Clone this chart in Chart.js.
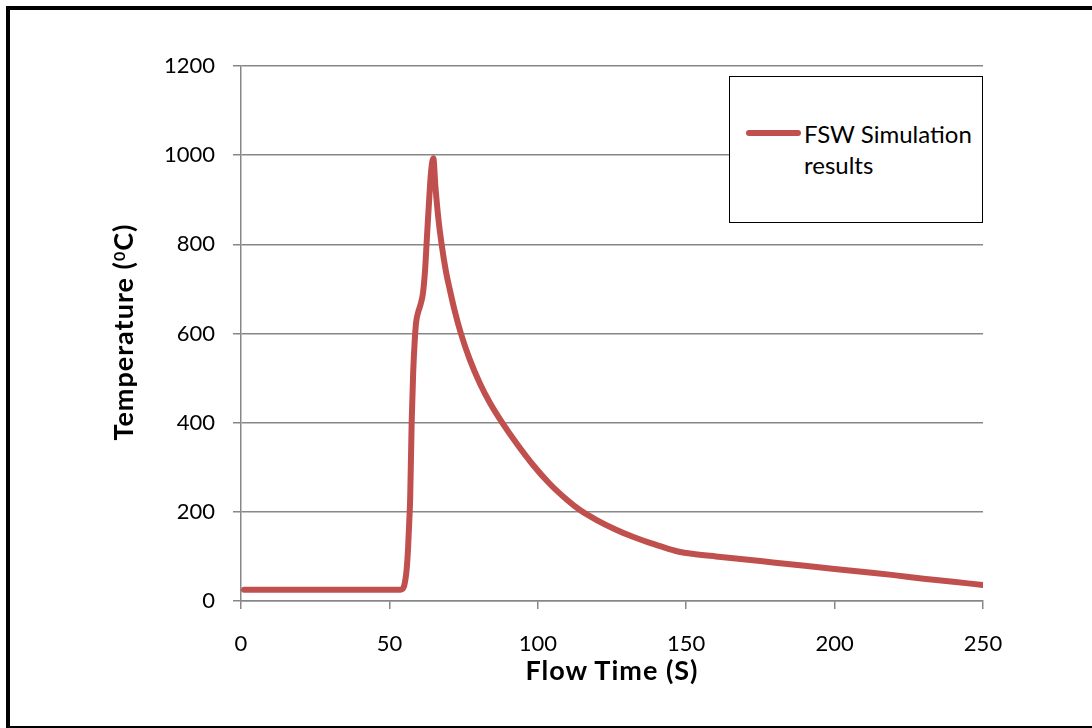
<!DOCTYPE html>
<html>
<head>
<meta charset="utf-8">
<script src="https://cdn.jsdelivr.net/npm/chart.js@4/dist/chart.umd.min.js"></script>
<style>
  html, body { margin:0; padding:0; background:#fff; overflow:hidden; }
  #wrap { position:relative; width:1092px; height:728px; }
  #frame { position:absolute; left:6px; top:6px; width:1100px; height:716px;
           border-left:4px solid #000; border-top:4px solid #000; border-bottom:2px solid #000; }
  canvas { position:absolute; left:0; top:0; }
  .title { position:absolute; font-family:Lato, "DejaVu Sans", sans-serif; font-weight:bold;
           font-size:27px; line-height:32px; height:32px; letter-spacing:1px; color:#000;
           text-align:center; white-space:nowrap; }
  .title sup { font-size:16px; vertical-align:top; position:relative; top:-4px; }
  #legend { position:absolute; left:729px; top:76px; width:252px; height:145px;
            border:1px solid #000; background:#fff; }
  #legend .swatch { position:absolute; left:16px; top:53px; width:55px; height:6px;
            background:#C0504D; border-radius:3px; }
  #legend .txt { position:absolute; left:74px; top:41px; font-family:Lato, sans-serif;
            font-size:24px; line-height:31px; color:#000; white-space:nowrap; }
</style>
</head>
<body>
<div id="wrap">
  <div id="frame"></div>
  <canvas id="c" width="1092" height="728"></canvas>
  <div id="legend"><div class="swatch"></div><div class="txt">FSW Simulation<br>results</div></div>
  <div class="title" id="xt" style="left:412px; top:654px; width:400px;">Flow Time (S)</div>
  <div class="title" id="yt" style="left:-77px; top:316px; width:400px; transform:rotate(-90deg);">Temperature (<sup>0</sup>C)</div>
</div>
<script>
const seriesName = "FSW Simulation results";
const flowTime = [1, 10, 20, 30, 40, 50, 53, 54, 55, 55.8, 56.3, 56.7, 57, 57.5, 58, 58.5, 59, 59.7, 60.5, 61.3, 62, 62.6, 63.3, 64, 64.8,
  65.5, 66.5, 67.6, 69, 70.4, 72, 74.1, 77, 80.5, 84, 88, 93, 98.4, 104, 110, 114.2, 120, 126, 132, 138, 144, 148, 152,
  160, 170, 180, 190, 200, 210, 220, 230, 240, 250];
const temperature = [25, 25, 25, 25, 25, 25, 25, 26, 35, 70, 120, 180, 230, 400, 510, 580, 625, 648, 665, 690, 740, 810, 890, 960, 993,
  930, 858, 800, 741, 697, 651, 600, 543, 488, 443, 400, 352, 305, 263, 226, 204, 181, 161, 144, 130, 117, 110, 106,
  100, 93, 86, 79, 72, 65, 58, 50, 43, 36];
const xTicks = [0, 50, 100, 150, 200, 250];
const yTicks = [0, 200, 400, 600, 800, 1000, 1200];

const points = flowTime.map((t, i) => ({ x: t, y: temperature[i] }));
const gridColor = '#878787';
const tickFont = { family: 'Lato', size: 22 };

new Chart(document.getElementById('c'), {
  type: 'line',
  data: {
    datasets: [{
      label: seriesName,
      data: points,
      borderColor: '#C0504D',
      backgroundColor: '#C0504D',
      borderWidth: 6,
      pointRadius: 0,
      cubicInterpolationMode: 'monotone',
      borderCapStyle: 'round',
      borderJoinStyle: 'round',
      fill: false
    }]
  },
  options: {
    responsive: false,
    animation: false,
    events: [],
    layout: { padding: { left: 0, top: 66, right: 109, bottom: 67 } },
    plugins: { legend: { display: false }, tooltip: { enabled: false }, title: { display: false } },
    scales: {
      x: {
        type: 'linear',
        min: xTicks[0], max: xTicks[xTicks.length - 1],
        afterBuildTicks: s => { s.ticks = xTicks.map(v => ({ value: v })); },
        afterFit: s => { s.height = 60; },
        ticks: { font: tickFont, color: '#000', padding: 22, maxRotation: 0, callback: v => String(v) },
        grid: { display: true, drawOnChartArea: false, drawTicks: true, tickLength: 8, color: gridColor, lineWidth: 1.5 },
        border: { display: true, color: gridColor, width: 1.5 }
      },
      y: {
        type: 'linear',
        min: yTicks[0], max: yTicks[yTicks.length - 1],
        afterBuildTicks: s => { s.ticks = yTicks.map(v => ({ value: v })); },
        afterFit: s => { s.width = 241; },
        ticks: { font: tickFont, color: '#000', padding: 18, callback: v => String(v) },
        grid: { display: true, drawOnChartArea: true, drawTicks: true, tickLength: 8, color: gridColor, lineWidth: 1.5 },
        border: { display: true, color: gridColor, width: 1.5 }
      }
    }
  }
});
</script>
</body>
</html>
